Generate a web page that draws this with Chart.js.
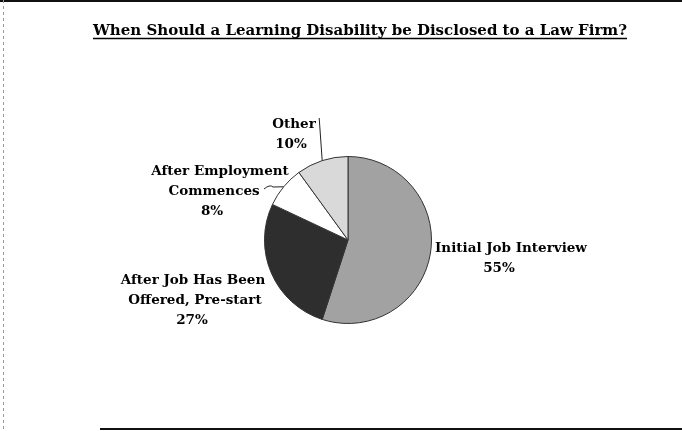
<!DOCTYPE html>
<html lang="en">
<head>
    <meta charset="UTF-8">
    <title>When Should a Learning Disability be Disclosed to a Law Firm?</title>
    <style>
        body { margin: 0; background: #fff; }
        #wrap { width: 682px; height: 431px; position: relative; }
    </style>
    <script src="https://cdn.jsdelivr.net/npm/chart.js"></script>
</head>
<body>
    <div id="wrap">
        <canvas id="pieChart" width="682" height="431"></canvas>
    </div>

    <script>
        // chart data
        const chartTitle = 'When Should a Learning Disability be Disclosed to a Law Firm?';
        const categories = ['Initial Job Interview', 'After Job Has Been Offered, Pre-start', 'After Employment Commences', 'Other'];
        const shares = [55, 27, 8, 10];
        const labelLines = [
            ['Initial Job Interview'],
            ['After Job Has Been', 'Offered, Pre-start'],
            ['After Employment', 'Commences'],
            ['Other']
        ];
        const sliceColors = ['#a2a2a2', '#2e2e2e', '#ffffff', '#d9d9d9'];

        // where each label block sits, relative to the pie centre (x = line centre, y = first baseline)
        const labelPlace = [
            { dx: [163, 151], dy: 12 },
            { dx: [-155, -153, -156], dy: 44 },
            { dx: [-128, -134, -136], dy: -65 },
            { dx: [-54, -57], dy: -112 }
        ];
        const FONT = '"DejaVu Serif", "Liberation Serif", serif';

        // title, frame, labels and leader lines
        const decorations = {
            id: 'decorations',
            afterDraw(chart) {
                const ctx = chart.ctx;
                const arcs = chart.getDatasetMeta(0).data;
                const cx = arcs[0].x, cy = arcs[0].y, r = arcs[0].outerRadius;
                ctx.save();

                // scanned page frame
                ctx.strokeStyle = '#111';
                ctx.lineWidth = 2;
                ctx.beginPath();
                ctx.moveTo(0, 1); ctx.lineTo(682, 1);
                ctx.moveTo(100, 429); ctx.lineTo(682, 429);
                ctx.stroke();
                ctx.strokeStyle = '#999';
                ctx.lineWidth = 1;
                ctx.setLineDash([3, 3]);
                ctx.beginPath();
                ctx.moveTo(3.5, 0); ctx.lineTo(3.5, 431);
                ctx.stroke();
                ctx.setLineDash([]);

                // title with underline
                ctx.fillStyle = '#000';
                ctx.font = 'bold 15px ' + FONT;
                ctx.textAlign = 'center';
                ctx.textBaseline = 'alphabetic';
                ctx.fillText(chartTitle, 360, 35);
                const tw = ctx.measureText(chartTitle).width;
                ctx.strokeStyle = '#000';
                ctx.lineWidth = 1.5;
                ctx.beginPath();
                ctx.moveTo(360 - tw / 2, 38.5);
                ctx.lineTo(360 + tw / 2, 38.5);
                ctx.stroke();

                // slice labels
                ctx.font = 'bold 13.5px ' + FONT;
                const total = shares.reduce((a, b) => a + b, 0);
                labelLines.forEach((lines, i) => {
                    const place = labelPlace[i];
                    const all = lines.concat([Math.round(shares[i] / total * 100) + '%']);
                    all.forEach((t, k) => {
                        ctx.fillText(t, cx + place.dx[k], cy + place.dy + k * 20);
                    });
                });

                // leader lines for the two small slices
                ctx.strokeStyle = '#222';
                ctx.lineWidth = 1;
                const edge = (i) => {
                    const a = arcs[i];
                    const mid = (a.startAngle + a.endAngle) / 2;
                    return { x: cx + Math.cos(mid) * r, y: cy + Math.sin(mid) * r };
                };
                let p = edge(3);
                ctx.beginPath();
                ctx.moveTo(p.x - 3, cy - 122);
                ctx.lineTo(p.x, p.y);
                ctx.stroke();
                p = edge(2);
                ctx.beginPath();
                ctx.moveTo(cx - 84, cy - 51);
                ctx.quadraticCurveTo(cx - 78, cy - 56, cx - 75, cy - 53);
                ctx.lineTo(p.x, p.y);
                ctx.stroke();

                ctx.restore();
            }
        };

        new Chart(document.getElementById('pieChart'), {
            type: 'pie',
            data: {
                labels: categories,
                datasets: [{
                    data: shares,
                    backgroundColor: sliceColors,
                    borderColor: '#333',
                    borderWidth: 1
                }]
            },
            options: {
                responsive: false,
                animation: false,
                layout: { padding: { top: 156, bottom: 107, left: 200, right: 186 } },
                plugins: {
                    legend: { display: false },
                    title: { display: false },
                    tooltip: { enabled: false }
                }
            },
            plugins: [decorations]
        });
    </script>
</body>
</html>
